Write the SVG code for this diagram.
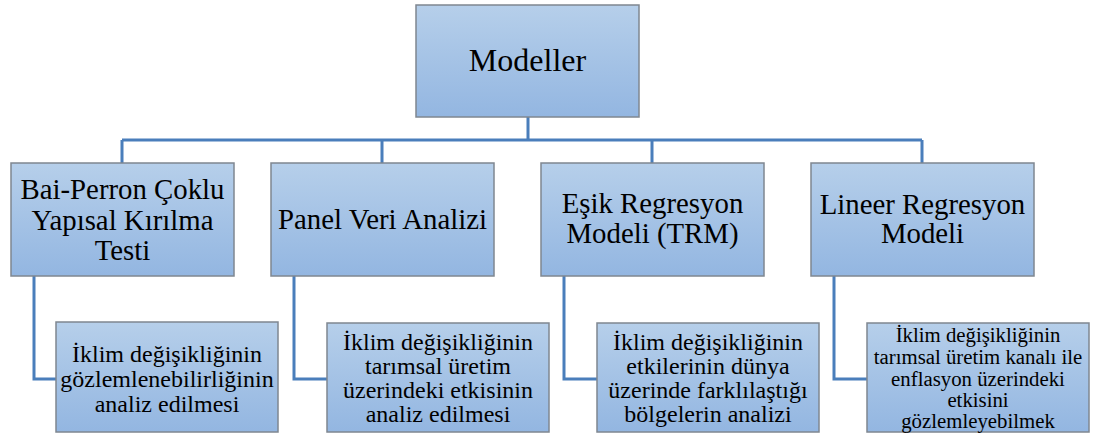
<svg xmlns="http://www.w3.org/2000/svg" width="1093" height="434" viewBox="0 0 1093 434">
<style>
.box{fill:url(#g);stroke:#7f8790;stroke-width:1.5}
.c{fill:none;stroke:#4a7ebb;stroke-width:3}
text{fill:#000;text-anchor:middle;font-family:'Times New Roman','Liberation Serif',Tinos,'Nimbus Roman','Nimbus Roman No9 L',FreeSerif,'DejaVu Serif','Noto Serif',Georgia,serif}
.t1{font-size:32px}
.t2{font-size:28.8px}
.t3{font-size:24px}
.t4{font-size:20.8px}
</style>
<defs>
<linearGradient id="g" x1="0" y1="0" x2="0" y2="1">
<stop offset="0" stop-color="#b6cfea"/>
<stop offset="1" stop-color="#93b6e1"/>
</linearGradient>
</defs>
<rect width="1093" height="434" fill="#fff"/>
<g id="connectors">
<path class="c" d="M528,117V140M122,140H922M122,140V163M382,140V163M652,140V163M922,140V163"/>
<path class="c" d="M34,276V379H56M294,276V379H327M564,276V379H597M834,276V379H867"/>
</g>
<g id="n-modeller">
<rect class="box" x="416" y="5" width="223" height="112"/>
<text class="t1" x="527.5" y="71">Modeller</text>
</g>
<g id="n-bai">
<rect class="box" x="11" y="163" width="223" height="113"/>
<text class="t2" x="122.5" y="199">Bai-Perron Çoklu</text>
<text class="t2" x="122.5" y="230">Yapısal Kırılma</text>
<text class="t2" x="122.5" y="260">Testi</text>
</g>
<g id="n-panel">
<rect class="box" x="271" y="163" width="223" height="113"/>
<text class="t2" x="382.5" y="229">Panel Veri Analizi</text>
</g>
<g id="n-esik">
<rect class="box" x="541" y="163" width="223" height="113"/>
<text class="t2" x="652.5" y="213">Eşik Regresyon</text>
<text class="t2" x="652.5" y="243">Modeli (TRM)</text>
</g>
<g id="n-lineer">
<rect class="box" x="811" y="163" width="223" height="113"/>
<text class="t2" x="922.5" y="214">Lineer Regresyon</text>
<text class="t2" x="922.5" y="243">Modeli</text>
</g>
<g id="n-c1">
<rect class="box" x="56" y="322" width="222" height="110"/>
<text class="t3" x="167" y="362">İklim değişikliğinin</text>
<text class="t3" x="167" y="387">gözlemlenebilirliğinin</text>
<text class="t3" x="167" y="412">analiz edilmesi</text>
</g>
<g id="n-c2">
<rect class="box" x="327" y="323" width="222" height="109"/>
<text class="t3" x="438" y="350">İklim değişikliğinin</text>
<text class="t3" x="438" y="374">tarımsal üretim</text>
<text class="t3" x="438" y="398">üzerindeki etkisinin</text>
<text class="t3" x="438" y="422">analiz edilmesi</text>
</g>
<g id="n-c3">
<rect class="box" x="597" y="323" width="222" height="109"/>
<text class="t3" x="708" y="350">İklim değişikliğinin</text>
<text class="t3" x="708" y="374">etkilerinin dünya</text>
<text class="t3" x="708" y="398">üzerinde farklılaştığı</text>
<text class="t3" x="708" y="422">bölgelerin analizi</text>
</g>
<g id="n-c4">
<rect class="box" x="867" y="323" width="222" height="109"/>
<text class="t4" x="978" y="342">İklim değişikliğinin</text>
<text class="t4" x="978" y="364">tarımsal üretim kanalı ile</text>
<text class="t4" x="978" y="386">enflasyon üzerindeki</text>
<text class="t4" x="978" y="407">etkisini</text>
<text class="t4" x="978" y="428">gözlemleyebilmek</text>
</g>
</svg>
